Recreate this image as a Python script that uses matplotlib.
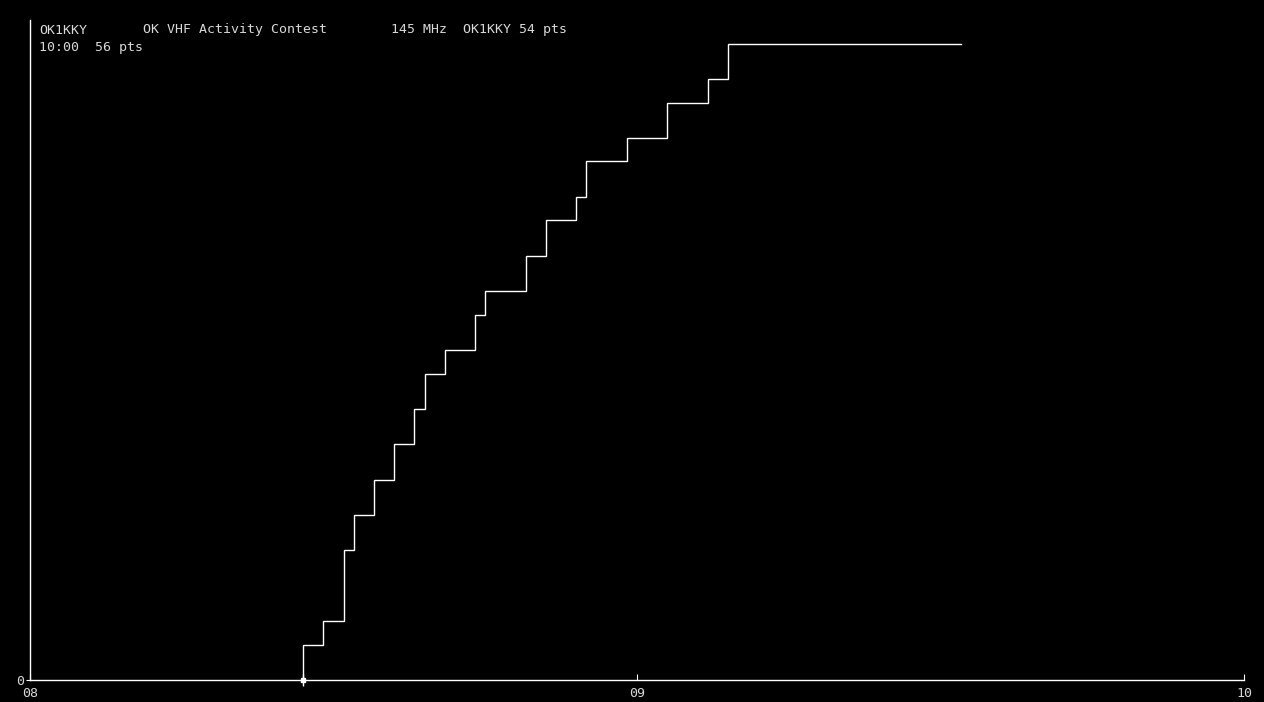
import matplotlib
matplotlib.use("Agg")
import matplotlib.pyplot as plt

# Data
times = ["08:27", "08:29", "08:31", "08:32", "08:34", "08:36", "08:38", "08:39",
         "08:41", "08:44", "08:45", "08:49", "08:51", "08:54", "08:55", "08:59",
         "09:03", "09:07", "09:09"]
points = [3, 5, 11, 14, 17, 20, 23, 26, 28, 31, 33, 36, 39, 41, 44, 46, 49, 51, 54]
end_time = "09:32"
x_ticks = ["08:00", "09:00", "10:00"]
x_tick_labels = ["08", "09", "10"]
y_max = 56


def minutes(t):
    h, m = t.split(":")
    return (int(h) - 8) * 60 + int(m)


fg = "#ffffff"
txt = "#d8d8d8"
plt.rcParams["font.family"] = ["DejaVu Sans Mono"]

fig = plt.figure(figsize=(12.64, 7.02), dpi=100, facecolor="black")
ax = fig.add_axes([30 / 1264, 1 - 680 / 702, 1214 / 1264, 660 / 702])
ax.set_facecolor("black")

# step line (starts from 0 at the first QSO)
xs = [minutes(times[0])] + [minutes(t) for t in times] + [minutes(end_time)]
ys = [0] + points + [points[-1]]
ax.step(xs, ys, where="post", color=fg, linewidth=1.0, solid_joinstyle="miter")

# start marker
ax.plot([minutes(times[0])], [0], marker="|", markersize=8, color=fg,
        markeredgewidth=1.0, clip_on=False)
ax.plot([minutes(times[0])], [0], marker="s", markersize=3, color=fg, clip_on=False)

ax.set_xlim(0, 120)
ax.set_ylim(0, y_max)
ax.set_xticks([minutes(t) for t in x_ticks])
ax.set_xticklabels(x_tick_labels)
ax.set_yticks([0])

for s in ["top", "right"]:
    ax.spines[s].set_visible(False)
for s in ["left", "bottom"]:
    ax.spines[s].set_color(fg)
    ax.spines[s].set_linewidth(1)

ax.tick_params(axis="x", direction="in", length=4, color=fg, labelcolor=txt,
               labelsize=9.5, pad=5)
ax.tick_params(axis="y", direction="out", length=3, color=fg, labelcolor=txt,
               labelsize=9.5, pad=1)

# header text
fs = 9.5
fig.text(39 / 1264, 1 - 30 / 702, "OK1KKY", color=txt, fontsize=fs, va="center")
fig.text(143 / 1264, 1 - 30 / 702, "OK VHF Activity Contest", color=txt,
         fontsize=fs, va="center")
fig.text(391 / 1264, 1 - 30 / 702, "145 MHz  OK1KKY %d pts" % points[-1],
         color=txt, fontsize=fs, va="center")
fig.text(39 / 1264, 1 - 48 / 702, "10:00  %d pts" % y_max, color=txt,
         fontsize=fs, va="center")

fig.savefig("out.png", dpi=100, facecolor="black")
